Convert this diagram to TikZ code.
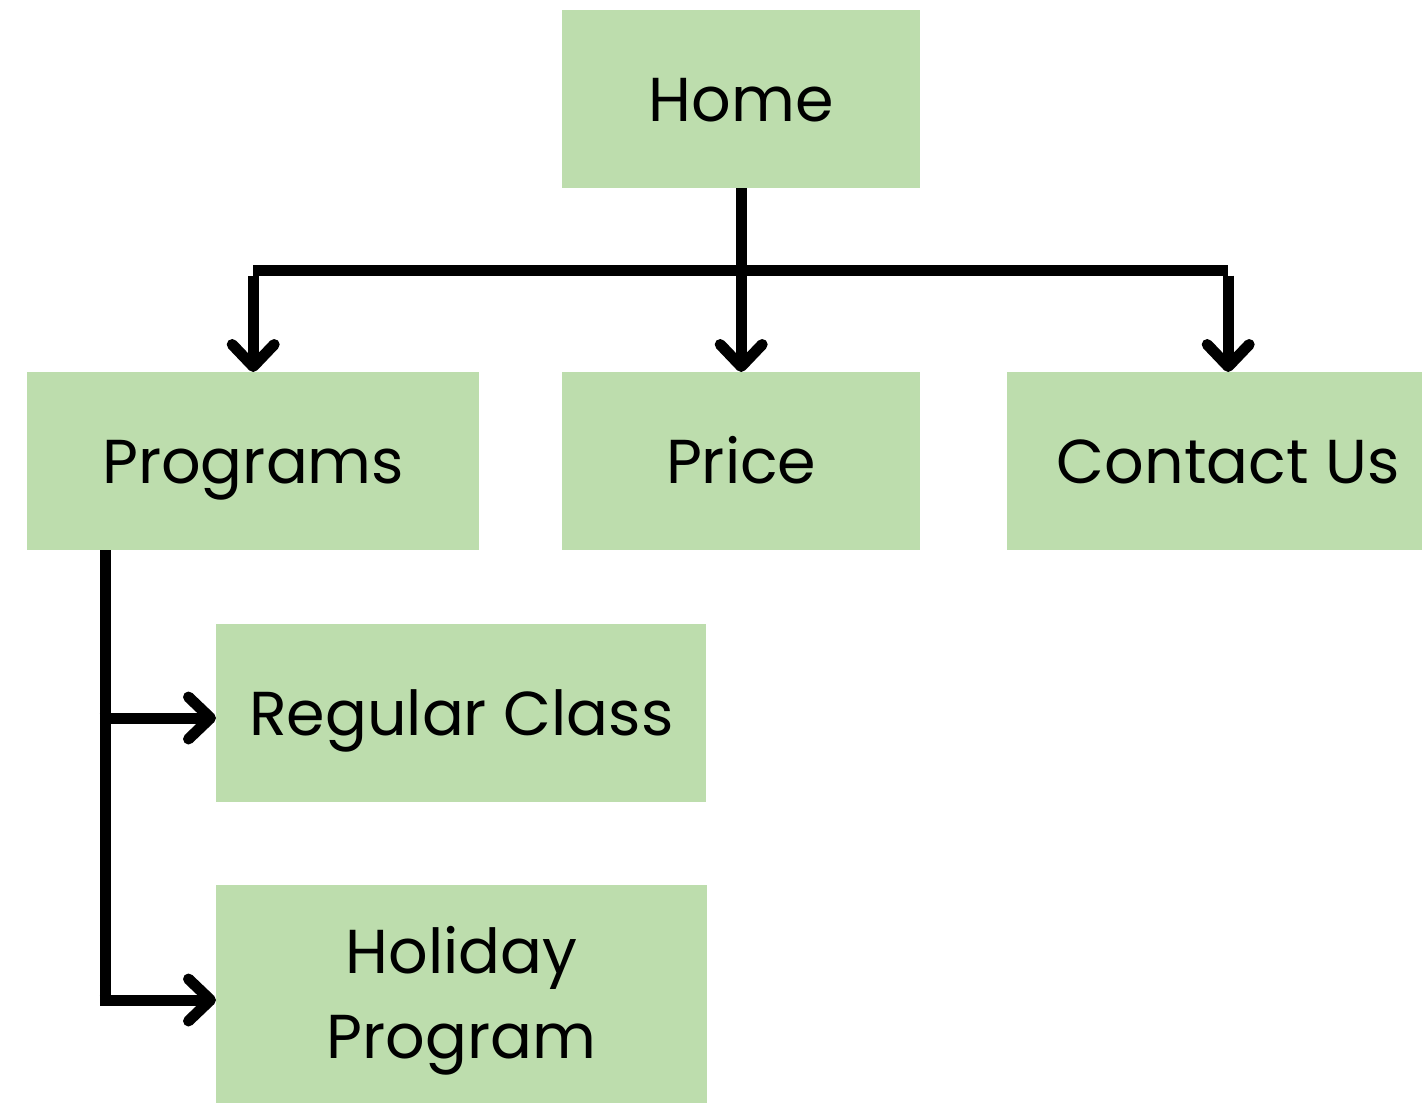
\documentclass[tikz,border=0pt]{standalone}
\usepackage{fontspec}
\setmainfont{Poppins}
\usetikzlibrary{arrows.meta}
\definecolor{boxgreen}{HTML}{BDDDAD}
\begin{document}
\begin{tikzpicture}[x=1pt,y=-1pt,
  box/.style={fill=boxgreen, draw=none, anchor=north west, inner sep=0pt,
    align=center, font=\fontsize{62}{85}\selectfont,
    text height=44pt, text depth=0pt},
  link/.style={line width=11pt, draw=black},
  tip/.style={link, -{Straight Barb[length=22pt,width=42pt,round]}}]
  \useasboundingbox (0,0) rectangle (1422,1103);
  % page boxes
  \node[box, minimum width=358pt, minimum height=178pt] (home) at (562,10) {Home};
  \node[box, minimum width=452pt, minimum height=178pt] (programs) at (27,372) {Programs};
  \node[box, minimum width=358pt, minimum height=178pt] (price) at (562,372) {Price};
  \node[box, minimum width=442pt, minimum height=178pt] (contact) at (1007,372) {Contact Us};
  \node[box, minimum width=490pt, minimum height=178pt] (regular) at (216,624) {Regular Class};
  \node[box, minimum width=491pt, minimum height=218pt, text height=129pt] (holiday) at (216,885) {Holiday\\Program};
  % top level branches
  \coordinate (jl) at (programs.north |- 0,270);
  \coordinate (jr) at (contact.north |- 0,270);
  \draw[tip] (home.south) -- (price.north);
  \draw[link] (jl) -- (jr);
  \draw[tip] ([yshift=-5.5pt]jl) -- (programs.north);
  \draw[tip] ([yshift=-5.5pt]jr) -- (contact.north);
  % sub pages of Programs
  \coordinate (pb) at (105,550);
  \coordinate (ra) at (105,718);
  \coordinate (ha) at (105,1000);
  \draw[link] (pb) -- ([yshift=5.5pt]ha);
  \draw[tip] ([xshift=-5.5pt]ra) -- (ra -| regular.west);
  \draw[tip] ([xshift=-5.5pt]ha) -- (ha -| holiday.west);
\end{tikzpicture}
\end{document}
